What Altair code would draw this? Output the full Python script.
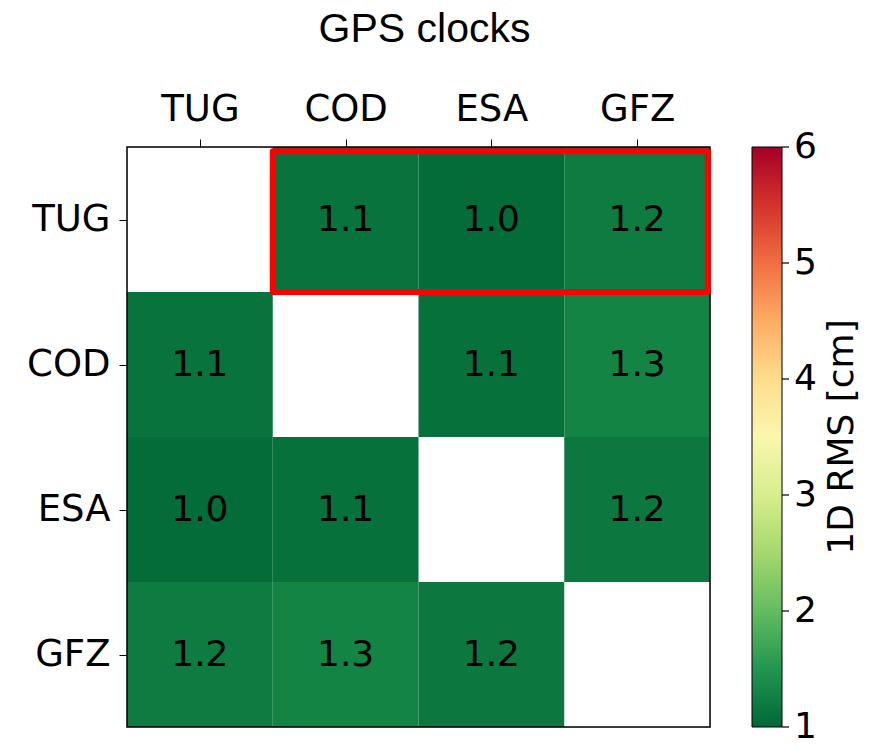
import altair as alt
import pandas as pd

# ---- data ----
stations = ["TUG", "COD", "ESA", "GFZ"]
rms_TUG = [None, 1.12, 1.04, 1.21]
rms_COD = [1.12, None, 1.10, 1.30]
rms_ESA = [1.04, 1.10, None, 1.17]
rms_GFZ = [1.21, 1.30, 1.17, None]
rows = [rms_TUG, rms_COD, rms_ESA, rms_GFZ]
colorbar_ticks = [1, 2, 3, 4, 5, 6]
color_domain = [1, 6]
highlight_row = "TUG"
highlight_cols = ["COD", "GFZ"]
title_text = "GPS clocks"
cbar_title = "1D RMS [cm]"

recs = []
for j, rname in enumerate(stations):
    for i, cname in enumerate(stations):
        v = rows[j][i]
        if v is None:
            continue
        recs.append({"row": rname, "col": cname, "x": i, "x2": i + 1,
                     "y": j, "y2": j + 1, "xc": i + 0.5, "yc": j + 0.5, "rms": v})
df = pd.DataFrame(recs)

hr = stations.index(highlight_row)
hc0 = stations.index(highlight_cols[0])
hc1 = stations.index(highlight_cols[1])
inset_top = 0.03
inset_right = 0.015
hl = pd.DataFrame([{"x": hc0, "x2": hc1 + 1 - inset_right, "y": hr + inset_top, "y2": hr + 1}])
cb = pd.DataFrame({"cv": colorbar_ticks})

W, H = 583, 580
CB_X = 625      # colorbar left edge, relative to plot area
CB_W = 30
TICKFONT = "DejaVu Sans"

label_expr = "['" + "','".join(stations) + "'][floor(datum.value)]"

xscale = alt.Scale(domain=[0, 4], nice=False, zero=False)
yscale = alt.Scale(domain=[0, 4], nice=False, zero=False, reverse=True)
cbscale = alt.Scale(domain=color_domain, nice=False, zero=False)

xaxis = alt.Axis(orient="top", values=[0.5, 1.5, 2.5, 3.5], labelExpr=label_expr,
                 grid=False, domain=False, ticks=True, tickSize=8, tickColor="black",
                 labelFont=TICKFONT, labelFontSize=37, labelColor="black",
                 labelPadding=11, title=None, labelAngle=0)
yaxis = alt.Axis(orient="left", values=[0.5, 1.5, 2.5, 3.5], labelExpr=label_expr,
                 grid=False, domain=False, ticks=True, tickSize=8, tickColor="black",
                 labelFont=TICKFONT, labelFontSize=37, labelColor="black",
                 labelPadding=9, title=None)

color = alt.Color("rms:Q",
                  scale=alt.Scale(scheme="redyellowgreen", reverse=True, domain=color_domain),
                  legend=alt.Legend(orient="none", legendX=CB_X, legendY=0,
                                    direction="vertical", gradientLength=H,
                                    gradientThickness=CB_W, labelExpr="''",
                                    title=None,
                                    gradientStrokeColor="black", gradientStrokeWidth=1,
                                    padding=0, offset=0))

base = alt.Chart(df)
cells = base.mark_rect().encode(
    x=alt.X("x:Q", scale=xscale, axis=xaxis),
    x2="x2:Q",
    y=alt.Y("y:Q", scale=yscale, axis=yaxis),
    y2="y2:Q",
    color=color,
)
texts = base.mark_text(font=TICKFONT, fontSize=36, color="black", baseline="middle").encode(
    x=alt.X("xc:Q", scale=xscale),
    y=alt.Y("yc:Q", scale=yscale, axis=None),
    text=alt.Text("rms:Q", format=".1f"),
)
frame = alt.Chart(pd.DataFrame({"f": [0]})).mark_rect(
    filled=False, stroke="black", strokeWidth=1.5
).encode(x=alt.value(0), x2=alt.value(W), y=alt.value(0), y2=alt.value(H))
box = alt.Chart(hl).mark_rect(filled=False, stroke="#ff0000", strokeWidth=6,
                              strokeJoin="round").encode(
    x=alt.X("x:Q", scale=xscale),
    x2="x2:Q",
    y=alt.Y("y:Q", scale=yscale, axis=None),
    y2="y2:Q",
)
cb_ticks = alt.Chart(cb).mark_rule(color="black", strokeWidth=1.2).encode(
    x=alt.value(CB_X + CB_W), x2=alt.value(CB_X + CB_W + 7),
    y=alt.Y("cv:Q", scale=cbscale, axis=None),
)
cb_labels = alt.Chart(cb).mark_text(
    font=TICKFONT, fontSize=36, align="left", baseline="middle", color="black"
).encode(
    x=alt.value(CB_X + CB_W + 12),
    y=alt.Y("cv:Q", scale=cbscale, axis=None),
    text=alt.Text("cv:Q", format="d"),
)
cbar_label = alt.Chart(pd.DataFrame({"t": [cbar_title]})).mark_text(
    font=TICKFONT, fontSize=36, angle=270, baseline="middle", align="center", color="black"
).encode(x=alt.value(715), y=alt.value(H / 2), text="t:N")
title_mark = alt.Chart(pd.DataFrame({"t": [title_text]})).mark_text(
    font="Liberation Sans", fontSize=41, baseline="alphabetic", align="center", color="black"
).encode(x=alt.value(W / 2 + 6), y=alt.value(-105), text="t:N")

chart = alt.layer(cells, texts, frame, box, cb_ticks, cb_labels, cbar_label, title_mark).resolve_scale(
    y="independent"
).properties(
    width=W, height=H,
    padding={"left": 119, "top": 139, "right": 153, "bottom": 12},
    autosize=alt.AutoSizeParams(type="none"),
).configure_view(stroke=None).configure(background="white")

chart.save("out.html", embed_options={"renderer": "svg", "actions": False})
